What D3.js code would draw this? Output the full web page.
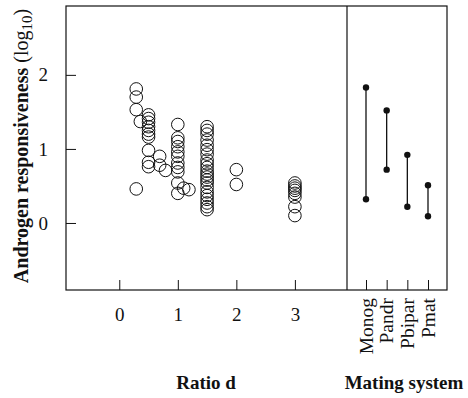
<!DOCTYPE html>
<html>
<head>
<meta charset="utf-8">
<script src="https://cdn.jsdelivr.net/npm/d3@7"></script>
<style>
  body { margin: 0; background: #fff; }
  text { font-family: "Liberation Serif", "DejaVu Serif", serif; fill: #111; }
</style>
</head>
<body>
<div id="chart"></div>
<script>
// ratio d vs androgen responsiveness (log10)
const ratioX = [
  0.29, 0.29, 0.29, 0.29, 0.36,
  0.5, 0.5, 0.5, 0.5, 0.5, 0.5, 0.5, 0.5, 0.5, 0.5,
  0.69, 0.69, 0.79,
  1, 1, 1, 1, 1, 1, 1, 1, 1, 1, 1, 1.1, 1.19,
  1.5, 1.5, 1.5, 1.5, 1.5, 1.5, 1.5, 1.5, 1.5, 1.5, 1.5, 1.5, 1.5, 1.5, 1.5, 1.5, 1.5, 1.5, 1.5, 1.5, 1.5, 1.5,
  2, 2,
  3, 3, 3, 3, 3, 3, 3, 3
];
const respY = [
  1.81, 1.70, 1.53, 0.46, 1.37,
  1.46, 1.41, 1.36, 1.30, 1.25, 1.20, 1.16, 0.98, 0.82, 0.76,
  0.90, 0.78, 0.71,
  1.33, 1.15, 1.10, 1.03, 0.96, 0.90, 0.81, 0.75, 0.69, 0.54, 0.40, 0.47, 0.45,
  1.30, 1.25, 1.20, 1.12, 1.05, 0.99, 0.93, 0.85, 0.80, 0.75, 0.70, 0.66, 0.62, 0.58, 0.54, 0.48, 0.42, 0.37, 0.32, 0.27, 0.22, 0.18,
  0.72, 0.52,
  0.54, 0.50, 0.47, 0.44, 0.40, 0.35, 0.22, 0.10
];
const xTicks = [0, 1, 2, 3];
const yTicks = [0, 1, 2];

// mating system ranges
const systems = ["Monog", "Pandr", "Pbipar", "Pmat"];
const sysHigh = [1.83, 1.52, 0.92, 0.51];
const sysLow = [0.32, 0.72, 0.22, 0.09];

const w = 468;
const h = 398;
const pLeft = 66, pTop = 6, pBottom = 290, pMid = 347, pRight = 447;

const svg = d3.select('#chart')
              .append('svg')
              .attr('width', w)
              .attr('height', h);

const xScale = d3.scaleLinear()
                 .domain([-0.91, 3.89])
                 .range([pLeft, pMid]);
const yScale = d3.scaleLinear()
                 .domain([-0.905, 2.93])
                 .range([pBottom, pTop]);
const sScale = d3.scalePoint()
                 .domain(systems)
                 .range([366, 428]);

// frames
svg.append('rect')
   .attr('x', pLeft).attr('y', pTop)
   .attr('width', pRight - pLeft).attr('height', pBottom - pTop)
   .attr('fill', 'none').attr('stroke', '#111').attr('stroke-width', 1.2);
svg.append('line')
   .attr('x1', pMid).attr('x2', pMid).attr('y1', pTop).attr('y2', pBottom)
   .attr('stroke', '#111').attr('stroke-width', 1.2);

// y axis (ticks inside)
const yAxis = d3.axisLeft(yScale).tickValues(yTicks).tickFormat(d3.format('d'))
                .tickSizeInner(-10).tickSizeOuter(0).tickPadding(18);
const gy = svg.append('g')
   .attr('transform', 'translate(' + pLeft + ',0)')
   .call(yAxis);
gy.select('.domain').remove();
gy.selectAll('line').attr('stroke', '#111');
gy.selectAll('text').style('font-size', '19px').attr('fill', '#111');

// x axis (ticks inside)
const xAxis = d3.axisBottom(xScale).tickValues(xTicks).tickFormat(d3.format('d'))
                .tickSizeInner(-10).tickSizeOuter(0).tickPadding(18);
const gx = svg.append('g')
   .attr('transform', 'translate(0,' + pBottom + ')')
   .call(xAxis);
gx.select('.domain').remove();
gx.selectAll('line').attr('stroke', '#111');
gx.selectAll('text').style('font-size', '19px').attr('fill', '#111');

// mating system axis
const sAxis = d3.axisBottom(sScale).tickSizeInner(-10).tickSizeOuter(0).tickFormat('');
const gs = svg.append('g')
   .attr('transform', 'translate(0,' + pBottom + ')')
   .call(sAxis);
gs.select('.domain').remove();
gs.selectAll('line').attr('stroke', '#111');

svg.selectAll('text.sys')
   .data(systems)
   .enter()
   .append('text')
   .attr('class', 'sys')
   .attr('transform', d => 'translate(' + (sScale(d) + 6.5) + ',' + (pBottom + 8) + ') rotate(-90)')
   .attr('text-anchor', 'end')
   .style('font-size', '19.5px')
   .text(d => d);

// scatter
svg.selectAll('circle.pt')
   .data(ratioX)
   .enter()
   .append('circle')
   .attr('class', 'pt')
   .attr('cx', d => xScale(d))
   .attr('cy', (d, i) => yScale(respY[i]))
   .attr('r', 6.3)
   .attr('fill', 'none')
   .attr('stroke', '#111')
   .attr('stroke-width', 1);

// ranges
svg.selectAll('line.rng')
   .data(systems)
   .enter()
   .append('line')
   .attr('class', 'rng')
   .attr('x1', d => sScale(d)).attr('x2', d => sScale(d))
   .attr('y1', (d, i) => yScale(sysHigh[i]))
   .attr('y2', (d, i) => yScale(sysLow[i]))
   .attr('stroke', '#111').attr('stroke-width', 1.3);
svg.selectAll('circle.hi')
   .data(systems)
   .enter()
   .append('circle')
   .attr('cx', d => sScale(d))
   .attr('cy', (d, i) => yScale(sysHigh[i]))
   .attr('r', 3.2).attr('fill', '#111');
svg.selectAll('circle.lo')
   .data(systems)
   .enter()
   .append('circle')
   .attr('cx', d => sScale(d))
   .attr('cy', (d, i) => yScale(sysLow[i]))
   .attr('r', 3.2).attr('fill', '#111');

// titles
const yTitle = svg.append('text')
   .attr('transform', 'translate(28,146) rotate(-90)')
   .attr('text-anchor', 'middle')
   .style('font-size', '20px');
yTitle.append('tspan').style('font-weight', 'bold').text('Androgen responsiveness ');
yTitle.append('tspan').text('(log');
yTitle.append('tspan').attr('dy', 4).style('font-size', '15px').text('10');
yTitle.append('tspan').attr('dy', -4).text(')');

svg.append('text')
   .attr('x', 206).attr('y', 389)
   .attr('text-anchor', 'middle')
   .style('font-size', '19px').style('font-weight', 'bold')
   .text('Ratio d');
svg.append('text')
   .attr('x', 404).attr('y', 389)
   .attr('text-anchor', 'middle')
   .style('font-size', '19px').style('font-weight', 'bold')
   .text('Mating system');
</script>
</body>
</html>
